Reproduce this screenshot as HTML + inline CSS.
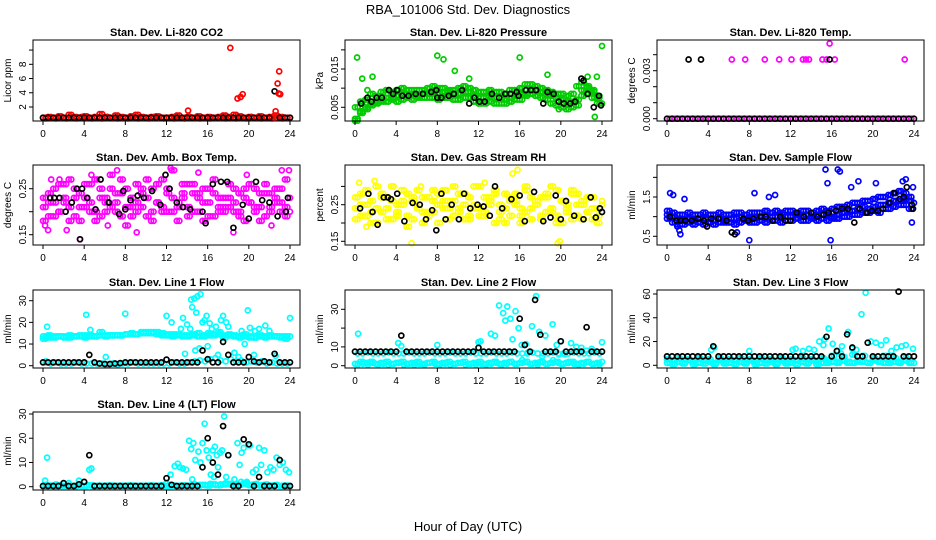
<!DOCTYPE html>
<html><head><meta charset="utf-8">
<style>
html,body{margin:0;padding:0;background:#fff;}
svg{display:block;font-family:"Liberation Sans",sans-serif;}
</style></head>
<body>
<svg id="chart" width="936" height="540" viewBox="0 0 936 540" xmlns="http://www.w3.org/2000/svg">
<text x="468" y="14" text-anchor="middle" font-size="13">RBA_101006  Std. Dev. Diagnostics</text>
<text x="468" y="531" text-anchor="middle" font-size="13">Hour of Day (UTC)</text>
</svg>
<script>
const T49=[0,0.5,1,1.5,2,2.5,3,3.5,4,4.5,5,5.5,6,6.5,7,7.5,8,8.5,9,9.5,10,10.5,11,11.5,12,12.5,13,13.5,14,14.5,15,15.5,16,16.5,17,17.5,18,18.5,19,19.5,20,20.5,21,21.5,22,22.5,23,23.5,24];
const T48=[0.25,0.75,1.25,1.75,2.25,2.75,3.25,3.75,4.25,4.75,5.25,5.75,6.25,6.75,7.25,7.75,8.25,8.75,9.25,9.75,10.25,10.75,11.25,11.75,12.25,12.75,13.25,13.75,14.25,14.75,15.25,15.75,16.25,16.75,17.25,17.75,18.25,18.75,19.25,19.75,20.25,20.75,21.25,21.75,22.25,22.75,23.25,23.75];
const xTicks=[0,4,8,12,16,20,24];

// Panel 1 CO2
const co2A=[0.5,0.6,0.5,0.7,0.5,0.9,0.6,0.5,0.7,0.5,0.6,1.0,0.6,0.5,0.8,0.6,0.5,0.7,0.9,0.6,0.5,0.6,0.7,0.5,0.5,0.6,0.8,0.5,0.6,0.5,0.7,0.5,0.6,0.5,0.6,0.8,0.6,0.9,0.7,0.5,0.6,0.5,0.7,0.5,0.6,0.8,0.6,0.5,0.5];
const co2B=[0.4,0.5,0.4,0.6,0.4,0.5,0.4,0.6,0.5,0.4,0.5,0.4,0.6,0.5,0.4,0.5,0.4,0.6,0.4,0.5,0.4,0.5,0.6,0.4,0.5,0.4,0.5,0.4,0.6,0.5,0.4,0.5,0.4,0.5,0.6,0.4,0.5,0.4,0.5,0.4,0.6,0.5,0.4,0.5,0.4,0.5,0.4,0.5];
const co2OutT=[14.1,18.2,18.9,19.2,19.4,22.6,22.8,22.95,22.9,23.05];
const co2OutY=[1.5,10.3,3.2,3.4,3.8,1.4,5.3,7.0,3.9,3.8];
const co2K=[0.5,0.5,0.5,0.5,0.5,0.5,0.5,0.5,0.5,0.5,0.5,0.5,0.5,0.5,0.5,0.5,0.5,0.5,0.5,0.5,0.5,0.5,0.5,0.5,0.5,0.5,0.5,0.5,0.5,0.5,0.5,0.5,0.5,0.5,0.5,0.5,0.5,0.5,0.5,0.5,0.5,0.5,0.5,0.5,0.5,4.2,0.5,0.5,0.5];

// Panel 2 Pressure
const prA=[0.002,0.004,0.005,0.006,0.0065,0.007,0.0075,0.0075,0.008,0.0085,0.0085,0.0085,0.008,0.0085,0.0085,0.009,0.0085,0.009,0.009,0.0085,0.0085,0.009,0.009,0.008,0.0075,0.0075,0.008,0.0075,0.0075,0.007,0.0075,0.008,0.0085,0.0085,0.0095,0.0095,0.009,0.0085,0.008,0.0075,0.007,0.0065,0.0065,0.007,0.0095,0.01,0.009,0.0075,0.006];
const prB=[0.005,0.0065,0.007,0.0085,0.008,0.009,0.0095,0.009,0.0095,0.01,0.0095,0.0095,0.0095,0.0095,0.01,0.0105,0.01,0.01,0.0095,0.0095,0.01,0.0105,0.01,0.0095,0.009,0.009,0.0095,0.009,0.009,0.0085,0.0095,0.0095,0.01,0.011,0.011,0.0105,0.01,0.0095,0.009,0.0085,0.0085,0.008,0.0085,0.0105,0.0115,0.0105,0.0095,0.008];
const prC=[0.0015,0.0035,0.0045,0.0055,0.006,0.0065,0.0065,0.007,0.0065,0.007,0.0075,0.007,0.0075,0.0075,0.0075,0.0075,0.007,0.0075,0.0075,0.007,0.007,0.0075,0.0075,0.0065,0.006,0.006,0.0065,0.006,0.006,0.006,0.0065,0.007,0.007,0.008,0.0085,0.008,0.0075,0.007,0.006,0.0055,0.005,0.0045,0.005,0.0055,0.008,0.0085,0.0075,0.006];
const prOutT=[0.2,0.7,1.2,1.7,8,8.6,9.7,11.1,16,18.7,22.6,23.3,23.5,24,19.8];
const prOutY=[0.018,0.0125,0.0095,0.013,0.0185,0.0175,0.0145,0.0125,0.018,0.0135,0.013,0.0025,0.013,0.021,0.0045];
const prKT=[0.6,1.2,1.6,2.1,2.6,3.3,3.7,4.1,4.6,5.2,5.9,6.6,7.4,7.9,8.0,8.4,9.1,9.6,10.4,11.1,11.6,12.1,12.6,13.3,14.0,14.6,15.1,15.7,15.9,16.6,17.1,17.6,18.3,18.7,19.3,19.8,20.3,20.9,21.4,22.0,22.2,22.6,23.2,23.7,23.9];
const prKY=[0.006,0.0075,0.0065,0.0075,0.0075,0.0095,0.0085,0.0095,0.008,0.008,0.0085,0.0085,0.009,0.0095,0.0075,0.0075,0.008,0.0085,0.0095,0.006,0.0075,0.0065,0.0065,0.0085,0.0075,0.0085,0.0085,0.009,0.008,0.0095,0.0095,0.0095,0.006,0.009,0.0085,0.0065,0.006,0.006,0.0065,0.0125,0.012,0.0085,0.005,0.008,0.0055];

// Panel 3 Li-820 Temp
const tmZero49=[0,0,0,0,0,0,0,0,0,0,0,0,0,0,0,0,0,0,0,0,0,0,0,0,0,0,0,0,0,0,0,0,0,0,0,0,0,0,0,0,0,0,0,0,0,0,0,0,0];
const tmZero48=[0,0,0,0,0,0,0,0,0,0,0,0,0,0,0,0,0,0,0,0,0,0,0,0,0,0,0,0,0,0,0,0,0,0,0,0,0,0,0,0,0,0,0,0,0,0,0,0];
const tmOutT=[6.3,7.6,9.5,10.9,12.1,13.2,13.5,13.8,15.1,15.5,16.3,23.1,15.8];
const tmOutY=[0.0037,0.0037,0.0037,0.0037,0.0037,0.0037,0.0037,0.0037,0.0037,0.0037,0.0037,0.0037,0.0047];
const tmKT=[2.1,3.3,15.8];
const tmKY=[0.0037,0.0037,0.0037];

// Panel 4 Amb Box Temp
const abA=[0.21,0.24,0.19,0.26,0.22,0.18,0.25,0.21,0.23,0.2,0.27,0.19,0.22,0.25,0.2,0.24,0.17,0.23,0.26,0.21,0.19,0.25,0.22,0.27,0.2,0.23,0.18,0.26,0.21,0.24,0.2,0.22,0.25,0.19,0.23,0.21,0.26,0.2,0.24,0.18,0.22,0.25,0.21,0.19,0.24,0.22,0.2,0.27,0.23];
const abB=[0.18,0.22,0.25,0.2,0.23,0.27,0.19,0.24,0.21,0.26,0.18,0.23,0.2,0.28,0.22,0.19,0.25,0.21,0.2,0.24,0.27,0.18,0.22,0.2,0.25,0.29,0.21,0.23,0.19,0.26,0.24,0.18,0.22,0.27,0.2,0.23,0.21,0.25,0.19,0.23,0.26,0.2,0.18,0.24,0.21,0.25,0.22,0.19];
const abC=[0.23,0.19,0.22,0.2,0.26,0.21,0.23,0.18,0.26,0.22,0.2,0.25,0.23,0.21,0.24,0.27,0.21,0.19,0.22,0.25,0.23,0.2,0.26,0.21,0.24,0.2,0.22,0.24,0.26,0.2,0.23,0.25,0.19,0.24,0.21,0.2,0.23,0.22,0.2,0.25,0.22,0.21,0.24,0.26,0.2,0.23,0.25,0.21,0.2];
const abOutT=[0.2,0.5,0.8,1.6,2.3,3.6,4.7,6.3,7.2,9.1,12.4,15.1,18.5,19.8,22.2,23.2,23.9];
const abOutY=[0.17,0.16,0.27,0.27,0.16,0.14,0.28,0.17,0.29,0.155,0.295,0.285,0.155,0.28,0.17,0.29,0.29];
const abKT=[0.7,1.1,1.6,2.2,2.8,3.3,3.6,3.8,4.3,5.1,5.6,6.4,7.4,7.8,8,8.5,9.2,9.8,10.6,11.4,11.9,12.3,13,13.6,14.3,15.5,15.8,16.5,17.3,17.9,18.5,19.4,20,20.7,21.3,22,22.8,23.6,23.8];
const abKY=[0.23,0.23,0.23,0.2,0.22,0.25,0.14,0.25,0.23,0.205,0.27,0.22,0.195,0.245,0.205,0.225,0.235,0.23,0.245,0.215,0.28,0.25,0.22,0.21,0.205,0.2,0.175,0.26,0.265,0.265,0.165,0.215,0.185,0.265,0.225,0.22,0.19,0.2,0.23];

// Panel 5 Gas Stream RH
const rhA=[0.24,0.28,0.22,0.26,0.3,0.23,0.27,0.21,0.25,0.29,0.22,0.26,0.24,0.2,0.27,0.23,0.25,0.29,0.21,0.26,0.24,0.28,0.22,0.25,0.3,0.23,0.27,0.2,0.25,0.28,0.22,0.26,0.24,0.29,0.21,0.25,0.27,0.23,0.3,0.22,0.26,0.24,0.21,0.28,0.25,0.23,0.27,0.22,0.26];
const rhB=[0.21,0.25,0.29,0.23,0.2,0.27,0.24,0.3,0.22,0.26,0.28,0.21,0.25,0.27,0.23,0.29,0.2,0.26,0.24,0.22,0.28,0.25,0.21,0.3,0.24,0.22,0.26,0.28,0.23,0.2,0.27,0.25,0.22,0.3,0.24,0.26,0.21,0.27,0.23,0.29,0.2,0.25,0.28,0.22,0.26,0.23,0.21,0.24];
const rhC=[0.27,0.22,0.25,0.2,0.24,0.28,0.21,0.26,0.23,0.25,0.19,0.27,0.29,0.23,0.22,0.26,0.28,0.24,0.26,0.3,0.23,0.21,0.27,0.24,0.22,0.27,0.25,0.29,0.21,0.24,0.26,0.28,0.2,0.23,0.27,0.25,0.22,0.28,0.24,0.2,0.26,0.23,0.29,0.25,0.21,0.27,0.24,0.2,0.25];
const rhOutT=[0.4,1.1,1.9,5.5,6.4,8.9,15.3,15.8,19.7,19.9,12.6,3.7];
const rhOutY=[0.31,0.19,0.315,0.145,0.3,0.29,0.335,0.345,0.145,0.15,0.31,0.3];
const rhKT=[0.5,1.3,1.7,2.2,2.8,3.2,3.5,4.1,4.8,5.6,6.3,6.9,7.5,7.9,8.4,8.8,9.4,10.1,10.6,11.2,11.9,12.5,13.1,13.6,14.3,15.2,16,16.5,17.4,18.3,19,19.5,20,20.5,21.3,22.2,22.9,23.4,23.8,24];
const rhKY=[0.24,0.28,0.23,0.195,0.27,0.27,0.265,0.28,0.205,0.255,0.25,0.21,0.235,0.18,0.28,0.21,0.25,0.21,0.28,0.24,0.25,0.245,0.22,0.3,0.24,0.265,0.275,0.205,0.285,0.205,0.215,0.275,0.21,0.26,0.22,0.21,0.27,0.215,0.24,0.23];

// Panel 6 Sample Flow
const sfA=[1.05,1.0,0.95,0.9,0.95,0.9,0.95,0.95,0.95,0.9,0.95,0.9,0.95,0.95,1.0,0.95,0.95,1.0,1.0,0.95,1.0,1.0,1.05,1.0,1.0,1.05,1.0,1.05,1.0,1.05,1.05,1.05,1.0,1.05,1.1,1.15,1.15,1.2,1.25,1.2,1.25,1.3,1.3,1.35,1.4,1.4,1.45,1.4,1.35];
const sfB=[1.15,1.1,1.05,1.05,1.1,1.05,1.05,1.1,1.05,1.05,1.1,1.05,1.05,1.1,1.1,1.05,1.1,1.1,1.1,1.15,1.1,1.15,1.1,1.15,1.15,1.1,1.15,1.15,1.1,1.15,1.2,1.15,1.2,1.25,1.25,1.3,1.35,1.35,1.4,1.4,1.45,1.5,1.5,1.55,1.6,1.65,1.6,1.5];
const sfC=[0.95,0.85,0.8,0.8,0.85,0.8,0.85,0.8,0.85,0.8,0.85,0.85,0.85,0.8,0.85,0.9,0.85,0.85,0.9,0.85,0.9,0.9,0.85,0.9,0.9,0.95,0.9,0.9,0.95,0.9,0.95,0.9,0.95,0.95,1.0,1.0,1.05,1.05,1.1,1.1,1.15,1.1,1.2,1.2,1.25,1.3,1.3,1.2];
const sfOutT=[0.3,0.6,1.0,1.3,1.7,8.0,8.5,9.9,10.5,15.4,15.6,15.9,16.6,16.8,17.9,18.6,20.3,22.9,23.2,23.8,23.9,1.2,6.8];
const sfOutY=[1.6,1.55,0.75,0.55,1.45,0.4,1.6,1.5,1.55,2.2,1.85,0.4,2.2,2.15,1.75,1.9,1.85,1.9,1.95,0.85,1.75,0.65,0.6];
const sfKT=[0.3,0.9,1.3,1.8,2.4,3,3.6,3.9,4.3,5,5.8,6.3,6.6,7.4,7.9,8.4,9.1,9.6,10.3,11,11.5,12,12.6,13.3,14,14.6,15.2,15.7,16.4,17,17.6,18.2,18.7,19.4,19.9,20.5,21,21.6,22.1,22.6,23,23.3,23.8,23.9];
const sfKY=[1.0,0.9,0.9,0.9,0.9,0.95,0.9,0.75,0.95,0.95,0.9,0.6,0.55,0.95,0.9,0.95,1.0,1.0,0.9,1.0,0.9,0.9,1.1,1.0,1.1,1.0,1.05,1.1,1.15,1.2,1.2,0.85,1.2,1.1,1.15,1.15,1.2,1.35,1.6,1.45,1.5,1.75,1.3,1.2];

// Panel 7 Line 1 Flow
const l1A=[13.5,13,13.5,13.5,13.5,14,13.5,14,14,14,13.5,14,14,14,14,14,14.5,14.5,14.5,15,15,15.5,15.5,15,14.5,14.5,14,14,14,14,13.5,13.5,14,14.5,14.5,14,14,13.5,13.5,13.5,13,13,13.5,13.5,13.5,13.5,13.5,13.5,13.5];
const l1B=[12.5,14,13,13.5,13,13,13.5,13.5,13,13.5,13.5,15.5,13.5,14,14,14,14.5,15,14.5,15.5,15.5,15,14.5,14,14,13.5,14.5,13.5,13.5,14.5,15,14,15,14,15.5,13,14.5,14,13,14.5,13.5,13,14,13,14,13.5,13,12.5];
const l1L=[1.5,1,1.5,1,1,1,1.5,1,1,1,1,1,0.5,1,0.5,1,1,1.5,1,1,1,1,1,1,1,1.5,1,1,1.5,2,2.5,2,3,3.5,2.5,2,3,2,2.5,1.5,2,1.5,2,1,1.5,1,1,1];
const l1OutT=[0.3,0.4,4.2,4.6,6.1,8,12,12.5,13.4,13.6,14,14.3,14.4,14.5,14.7,14.9,15,15.3,15.5,15.7,15.9,16.2,16.4,16.8,17.3,17.5,17.8,18,19.3,19.6,19.9,20.1,20.6,21,21.6,22,22.6,24,13.8,14.8,15.2,16,17,18.6,19,20.5];
const l1OutY=[2,18,23.5,16.5,4,24,23,20,17,22,19,17,30.5,27,31,24.5,32,33,20,21,23,19.5,17,18,21,23,20,18,16,10,25.5,17.5,16,17,18.5,16,4.5,22,5.5,7,8,9,5,6,4,5];
const l1K=[1.5,1.5,1.5,1.5,1.5,1.5,1.5,1.5,1.5,5,1.5,1,0.8,0.8,1,1.2,1.5,1.5,1.5,1.5,1.5,1.5,1.5,1.5,2.8,1.5,1.5,1.5,1.5,1.5,1.5,7,3,1.5,1.5,11,5,1.5,1.5,1.5,4,2,1.5,2,1.5,5.5,1.5,1.5,1.5];

// Panel 8 Line 2 Flow
const l2L1=[1,2,1.5,2,1,1.5,2,1,1.5,2,1,1.5,2,1,1.5,2,1,1.5,2,1,1.5,2,1,1.5,2,1,1.5,2,1,1.5,2,1,1.5,2,1,1.5,2,1,1.5,2,1,1.5,2,1,1.5,2,1,1.5,2];
const l2L2=[0.5,1,0.5,1.5,0.5,1,0.5,1,1.5,0.5,1,0.5,1,0.5,1.5,1,0.5,1,0.5,1,1.5,0.5,1,0.5,1,0.5,1,1.5,0.5,1,2,1,3,2,1,0.5,2,1,3,1.5,1,2,1,0.5,1,2,1,0.5];
const l2M=[6.5,6.5,7,6.5,6.5,6.5,7,6.5,6.5,6.5,7,6.5,6.5,6.5,7,6.5,6.5,6.5,7,6.5,6.5,6.5,7,6.5,6.5,6.5,7,6.5,6.5,6.5,7,6.5,6.5,6.5,7,6.5,6.5,6.5,7,6.5,6.5,6.5,7,6.5,6.5,6.5,7,6.5];
const l2OutT=[0.3,4.2,4.5,8,12,12.2,13.2,13.6,14,14.4,14.8,15.1,15.3,15.6,15.9,16.2,16.6,17.2,17.6,17.9,18.5,19.2,19.6,20,20.4,21,21.5,22,22.5,23,24,14.6,16.8,18.2,19.8];
const l2OutY=[17,12,10.5,11,12.5,13,17,16,32,28,31.5,25,14,29,20,11,11.5,21,37,18,16,22,11,13,6,12,10,9.5,8,9,12.5,24,7,5,6];
const l2K=[7.5,7.5,7.5,7.5,7.5,7.5,7.5,7.5,7.5,16,7.5,7.5,7.5,7.5,7.5,7.5,7.5,7.5,7.5,7.5,7.5,7.5,7.5,7.5,9.5,7.5,7.5,7.5,7.5,7.5,7.5,7.5,25,11,7.5,35,16.5,7.5,7.5,7.5,13,7.5,7.5,7.5,7.5,20.5,7.5,7.5,7.5];

// Panel 9 Line 3 Flow
const l3L1=[2,4,3,2,4,3,2,4,3,2,4,3,2,4,3,2,4,3,2,4,3,2,4,3,2,4,3,2,4,3,2,4,3,2,4,3,2,4,3,2,4,3,2,4,3,2,4,3,2];
const l3L2=[5,1,6,1.5,5,1,6,1.5,5,1,6,1.5,5,1,6,1.5,5,1,6,1.5,5,1,6,1.5,5,1,6,1.5,5,1,6,2,8,3,7,2,9,3,8,2,6,3,8,2,6,3,7,2];
const l3OutT=[4.3,4.6,8,12.2,12.5,13.2,13.8,14.3,14.8,15.2,15.7,16.1,16.6,17,17.6,18,18.4,18.9,19.3,19.8,20.3,20.8,21.3,21.8,22.3,22.8,23.2,23.9,15.3,16.9];
const l3OutY=[13,15,12,13,14,12,14,13,20,17,31,18,12,16,28,14,13,43,61,20,19,17,21,12,15,16,17,14,22,10];
const l3K=[7.5,7.5,7.5,7.5,7.5,7.5,7.5,7.5,7.5,16,7.5,7.5,7.5,7.5,7.5,7.5,7.5,7.5,7.5,7.5,7.5,7.5,7.5,7.5,7.5,7.5,7.5,7.5,7.5,7.5,7.5,24,7.5,12,7.5,26,15,7.5,7.5,19,7.5,7.5,7.5,7.5,7.5,62,7.5,7.5,7.5];

// Panel 10 Line 4 (LT) Flow
const l4L1=[0.3,0.5,0.2,0.6,0.3,0.4,0.2,0.5,0.3,0.6,0.2,0.4,0.3,0.5,0.2,0.4,0.3,0.5,0.2,0.4,0.3,0.5,0.2,0.6,0.3,0.4,0.2,0.5,0.3,0.6,0.4,0.8,0.5,1,0.6,0.9,1.2,0.5,0.8,1.5,0.6,1,0.5,0.8,0.4,0.6,0.3,0.5,0.3];
const l4L2=[0.8,0.4,1,0.3,0.6,0.2,0.5,0.3,0.6,0.2,0.4,0.3,0.5,0.2,0.4,0.3,0.5,0.2,0.4,0.3,0.5,0.2,0.4,0.3,0.8,0.5,0.4,0.6,0.5,1,0.8,0.6,1.2,0.7,1,1.5,0.8,1.2,2,1,0.8,1.2,0.6,1,0.5,0.8,0.4,0.3];
const l4OutT=[0.2,0.4,2.5,3.5,4.5,4.7,12,12.4,12.8,13.1,13.3,13.6,13.9,14.2,14.4,14.6,14.8,15.1,15.3,15.5,15.7,15.9,16.1,16.3,16.5,16.7,16.9,17,17.2,17.4,17.6,17.8,18,18.3,18.6,18.9,19.1,19.3,19.5,19.8,20.1,20.4,20.7,21,21.2,21.5,21.8,22.1,22.4,22.7,23,23.3,23.6,23.9,14.5,16.6];
const l4OutY=[2.5,12,1.5,2.5,7,7.5,1.5,5,8.5,9.5,8,7.5,7,19,15.5,18,11,14.5,10,18,26,15,12,5,15,16.5,13,8,14,15,29,4,13,1,3,18,9,14,16,2,17,6,7,16,9,15,6,8,7,12,9,10,7,6,3,4];
const l4K=[0.3,0.3,0.3,0.3,1.5,0.3,0.3,1,2,13,0.3,0.3,0.3,0.3,0.3,0.3,0.3,0.3,0.3,0.3,0.3,0.3,0.3,0.3,3.5,0.8,0.3,0.3,0.3,0.3,0.3,8,20,10,5,25,13,0.3,0.3,19.5,17.5,0.3,4,0.3,0.3,0.3,11,0.3,0.3];

const panels=[
 {name:"co2",title:"Stan. Dev. Li-820 CO2",ylab:"Licor ppm",col:0,row:0,ref:[2,107,8,64.3],ticks:[2,4,6,8,10],labels:["2","4","6","8",""],
  series:[[T49,co2A,"#ff0000"],[T48,co2B,"#ff0000"],[T48,co2A,"#ff0000"],[T49,co2K,"#000"],[co2OutT,co2OutY,"#ff0000"]]},
 {name:"pressure",title:"Stan. Dev. Li-820 Pressure",ylab:"kPa",col:1,row:0,ref:[0.005,107.3,0.015,69],ticks:[0.005,0.01,0.015,0.02],labels:["0.005","","0.015",""],
  series:[[T49,prA,"#00cc00"],[T48,prA,"#00cc00"],[T48,prB,"#00cc00"],[T49,prB,"#00cc00"],[T48,prC,"#00cc00"],[T49,prC,"#00cc00"],[prOutT,prOutY,"#00cc00"],[prKT,prKY,"#000"]]},
 {name:"li820-temp",title:"Stan. Dev. Li-820 Temp.",ylab:"degrees C",col:2,row:0,ref:[0,118.7,0.003,70.7],ticks:[0,0.001,0.002,0.003,0.004],labels:["0.000","","","0.003",""],
  series:[[T48,tmZero48,"#ff00ff"],[T49,tmZero49,"#000"],[tmOutT,tmOutY,"#ff00ff"],[tmKT,tmKY,"#000"]]},
 {name:"amb-box-temp",title:"Stan. Dev. Amb. Box Temp.",ylab:"degrees C",col:0,row:1,ref:[0.15,234.7,0.25,188.7],ticks:[0.15,0.2,0.25],labels:["0.15","","0.25"],
  series:[[T49,abA,"#ff00ff"],[T48,abB,"#ff00ff"],[T49,abC,"#ff00ff"],[T48,abA,"#ff00ff"],[T49,abB,"#ff00ff"],[T48,abC,"#ff00ff"],[abOutT,abOutY,"#ff00ff"],[abKT,abKY,"#000"]]},
 {name:"gas-stream-rh",title:"Stan. Dev. Gas Stream RH",ylab:"percent",col:1,row:1,ref:[0.15,241.3,0.25,204.7],ticks:[0.15,0.2,0.25,0.3],labels:["0.15","","0.25",""],
  series:[[T49,rhA,"#ffff00"],[T48,rhB,"#ffff00"],[T49,rhC,"#ffff00"],[T48,rhA,"#ffff00"],[T49,rhB,"#ffff00"],[T48,rhC,"#ffff00"],[rhOutT,rhOutY,"#ffff00"],[rhKT,rhKY,"#000"]]},
 {name:"sample-flow",title:"Stan. Dev. Sample Flow",ylab:"ml/min",col:2,row:1,ref:[0.5,236.3,1.5,197],ticks:[0.5,1,1.5,2],labels:["0.5","","1.5",""],
  series:[[T49,sfA,"#0000ff"],[T48,sfA,"#0000ff"],[T48,sfB,"#0000ff"],[T49,sfB,"#0000ff"],[T48,sfC,"#0000ff"],[T49,sfC,"#0000ff"],[sfOutT,sfOutY,"#0000ff"],[sfKT,sfKY,"#000"]]},
 {name:"line1-flow",title:"Stan. Dev. Line 1 Flow",ylab:"ml/min",col:0,row:2,ref:[0,365.7,30,300.7],ticks:[0,10,20,30],labels:["0","10","20","30"],
  series:[[T49,l1A,"#00ffff"],[T48,l1B,"#00ffff"],[T48,l1A,"#00ffff"],[T49,l1B,"#00ffff"],[T48,l1L,"#00ffff"],[l1OutT,l1OutY,"#00ffff"],[T49,l1K,"#000"]]},
 {name:"line2-flow",title:"Stan. Dev. Line 2 Flow",ylab:"ml/min",col:1,row:2,ref:[0,365.7,30,309.3],ticks:[0,10,20,30],labels:["0","10","","30"],
  series:[[T49,l2L1,"#00ffff"],[T48,l2L2,"#00ffff"],[T48,l2L1,"#00ffff"],[T48,l2M,"#00ffff"],[l2OutT,l2OutY,"#00ffff"],[T49,l2K,"#000"]]},
 {name:"line3-flow",title:"Stan. Dev. Line 3 Flow",ylab:"ml/min",col:2,row:2,ref:[0,365.3,60,294],ticks:[0,20,40,60],labels:["0","20","40","60"],
  series:[[T49,l3L1,"#00ffff"],[T48,l3L2,"#00ffff"],[T48,l3L1,"#00ffff"],[T49,l3L2,"#00ffff"],[l3OutT,l3OutY,"#00ffff"],[T49,l3K,"#000"]]},
 {name:"line4-flow",title:"Stan. Dev. Line 4 (LT) Flow",ylab:"ml/min",col:0,row:3,ref:[0,486.7,30,414],ticks:[0,10,20,30],labels:["0","10","20","30"],
  series:[[T49,l4L1,"#00ffff"],[T48,l4L2,"#00ffff"],[T48,l4L1,"#00ffff"],[l4OutT,l4OutY,"#00ffff"],[T49,l4K,"#000"]]}
];

const NS="http://www.w3.org/2000/svg";
const svg=document.getElementById("chart");
const colX0=[43,355,667];
const rowTop=[40,165,290,412], rowBot=[121,245,368,490];
const xs=247/24;
function mk(tag,attrs,parent){const e=document.createElementNS(NS,tag);for(const k in attrs)e.setAttribute(k,attrs[k]);parent.appendChild(e);return e;}

panels.forEach(p=>{
  const g=mk("g",{},svg);
  
  
  const x0=colX0[p.col], L=x0-10, R=x0+257, Tp=rowTop[p.row], B=rowBot[p.row];
  const xf=t=>x0+t*xs;
  const [v1,p1,v2,p2]=p.ref;
  const yf=v=>p1+(v-v1)*(p2-p1)/(v2-v1);
  const title=mk("text",{x:(L+R)/2,y:Tp-4,"text-anchor":"middle","font-size":"11","font-weight":"bold"},g);
  title.textContent=p.title;
  
  
  const yl=mk("text",{transform:`translate(${L-22},${(Tp+B)/2}) rotate(-90)`,"text-anchor":"middle","font-size":"10"},g);
  yl.textContent=p.ylab;
  
  
  const pg=mk("g",{fill:"none","stroke-width":"1.7"},g);
  
  
  p.series.forEach(s=>{
    const [ts,vs,c]=s;
    const n=Math.min(ts.length,vs.length);
    for(let i=0;i<n;i++){
      const cy=yf(vs[i]); if(cy<Tp-2||cy>B+2) continue;
      const ci=mk("circle",{cx:xf(ts[i]).toFixed(1),cy:cy.toFixed(1),r:"2.5",stroke:c},pg);
      
      
    }
  });
  const box=mk("rect",{x:L,y:Tp,width:R-L,height:B-Tp,fill:"none",stroke:"#000","stroke-width":"1"},g);
  
  
  xTicks.forEach(t=>{
    const x=xf(t);
    mk("line",{x1:x,x2:x,y1:B,y2:B+4,stroke:"#000"},g);
    const tx=mk("text",{x:x,y:B+16,"text-anchor":"middle","font-size":"10"},g);
    tx.textContent=t;
    
    
  });
  p.ticks.forEach((v,i)=>{
    const y=yf(v);
    mk("line",{x1:L-4,x2:L,y1:y,y2:y,stroke:"#000"},g);
    if(p.labels[i]){
      const ty=mk("text",{transform:`translate(${L-7},${y}) rotate(-90)`,"text-anchor":"middle","font-size":"10"},g);
      ty.textContent=p.labels[i];
      
      
    }
  });
});
</script>
</body></html>
